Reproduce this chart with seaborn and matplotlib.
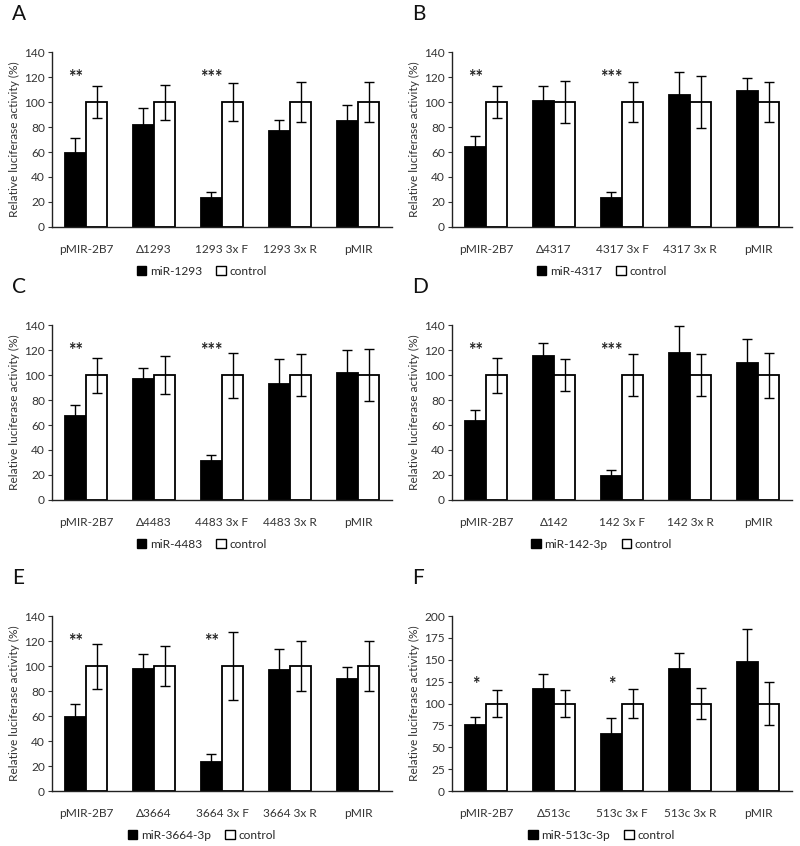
import matplotlib
matplotlib.use("Agg")
import matplotlib.pyplot as plt
import seaborn as sns
import pandas as pd
from matplotlib.patches import Patch

sns.set_theme(style="white")
plt.rcParams['font.family'] = ['Lato', 'DejaVu Sans']

panel_letters = ["A", "B", "C", "D", "E", "F"]
mirna_names = ["miR-1293", "miR-4317", "miR-4483", "miR-142-3p", "miR-3664-3p", "miR-513c-3p"]
construct_ids = ["1293", "4317", "4483", "142", "3664", "513c"]

mir_vals = [
    [59, 82, 23, 77, 85],
    [64, 101, 23, 106, 109],
    [67, 97, 31, 93, 102],
    [63, 115, 19, 118, 110],
    [59, 98, 23, 97, 90],
    [76, 117, 65, 140, 148],
]
mir_err = [
    [12, 13, 5, 9, 13],
    [9, 12, 5, 18, 10],
    [9, 9, 5, 20, 18],
    [9, 11, 5, 21, 19],
    [11, 12, 7, 17, 9],
    [9, 17, 19, 18, 37],
]
ctrl_vals = [
    [100, 100, 100, 100, 100],
    [100, 100, 100, 100, 100],
    [100, 100, 100, 100, 100],
    [100, 100, 100, 100, 100],
    [100, 100, 100, 100, 100],
    [100, 100, 100, 100, 100],
]
ctrl_err = [
    [13, 14, 15, 16, 16],
    [13, 17, 16, 21, 16],
    [14, 15, 18, 17, 21],
    [14, 13, 17, 17, 18],
    [18, 16, 27, 20, 20],
    [15, 15, 17, 18, 25],
]
stars = [
    ["**", "", "***", "", ""],
    ["**", "", "***", "", ""],
    ["**", "", "***", "", ""],
    ["**", "", "***", "", ""],
    ["**", "", "**", "", ""],
    ["*", "", "*", "", ""],
]
star_y = [120, 120, 120, 120, 120, 122]
y_max = [140, 140, 140, 140, 140, 200]
y_step = [20, 20, 20, 20, 20, 25]

fig = plt.figure(figsize=(8.0, 8.46), dpi=100)

lefts = [0.065, 0.565]
bottoms = [0.7317, 0.409, 0.065]
w, h = 0.425, 0.2068
fs = 8.6

for i in range(6):
    row, col = divmod(i, 2)
    ax = fig.add_axes([lefts[col], bottoms[row], w, h])
    cid = construct_ids[i]
    cats = ["pMIR-2B7", "\u0394" + cid, cid + " 3x F", cid + " 3x R", "pMIR"]
    df = pd.DataFrame({
        "construct": cats * 2,
        "value": mir_vals[i] + ctrl_vals[i],
        "group": [mirna_names[i]] * 5 + ["control"] * 5,
    })
    sns.barplot(data=df, x="construct", y="value", hue="group", order=cats,
                hue_order=[mirna_names[i], "control"],
                palette={mirna_names[i]: "black", "control": "white"},
                edgecolor="black", linewidth=1.3, width=0.62, errorbar=None,
                ax=ax, legend=False)
    errs = [mir_err[i], ctrl_err[i]]
    for cont, err in zip(ax.containers, errs):
        xs = [p.get_x() + p.get_width() / 2 for p in cont.patches]
        ys = [p.get_height() for p in cont.patches]
        ax.errorbar(xs, ys, yerr=err, fmt="none", ecolor="black",
                    elinewidth=1.0, capsize=3.5, capthick=1.0)
    mir_cont = ax.containers[0]
    for p, s in zip(mir_cont.patches, stars[i]):
        if s:
            ax.text(p.get_x() + p.get_width() / 2, star_y[i], s, ha="center",
                    va="center", fontsize=13, fontweight="bold", color="#222222")
    ax.set_ylim(0, y_max[i])
    ax.set_yticks(range(0, y_max[i] + 1, y_step[i]))
    ax.set_xlim(-0.5, 4.5)
    ax.set_xlabel("")
    ax.set_ylabel("Relative luciferase activity (%)", fontsize=fs, color="#333333",
                  labelpad=3)
    ax.tick_params(axis="y", labelsize=fs, left=True, length=3, width=0.8,
                   colors="#333333", pad=2)
    ax.tick_params(axis="x", labelsize=fs, bottom=False, colors="#333333", pad=6)
    sns.despine(ax=ax)
    for sp in ["left", "bottom"]:
        ax.spines[sp].set_color("#222222")
        ax.spines[sp].set_linewidth(1.0)
    handles = [Patch(facecolor="black", edgecolor="black", label=mirna_names[i]),
               Patch(facecolor="white", edgecolor="black", label="control")]
    ax.legend(handles=handles, loc="upper center", bbox_to_anchor=(0.44, -0.16),
              ncol=2, frameon=False, fontsize=fs, handlelength=0.8,
              handleheight=0.8, handletextpad=0.3, columnspacing=1.2)
    fig.text(lefts[col] - 0.05, bottoms[row] + h + 0.045, panel_letters[i],
             fontsize=15, ha="left", va="center", color="#111111")

fig.savefig("out.png", dpi=100, facecolor="white")
